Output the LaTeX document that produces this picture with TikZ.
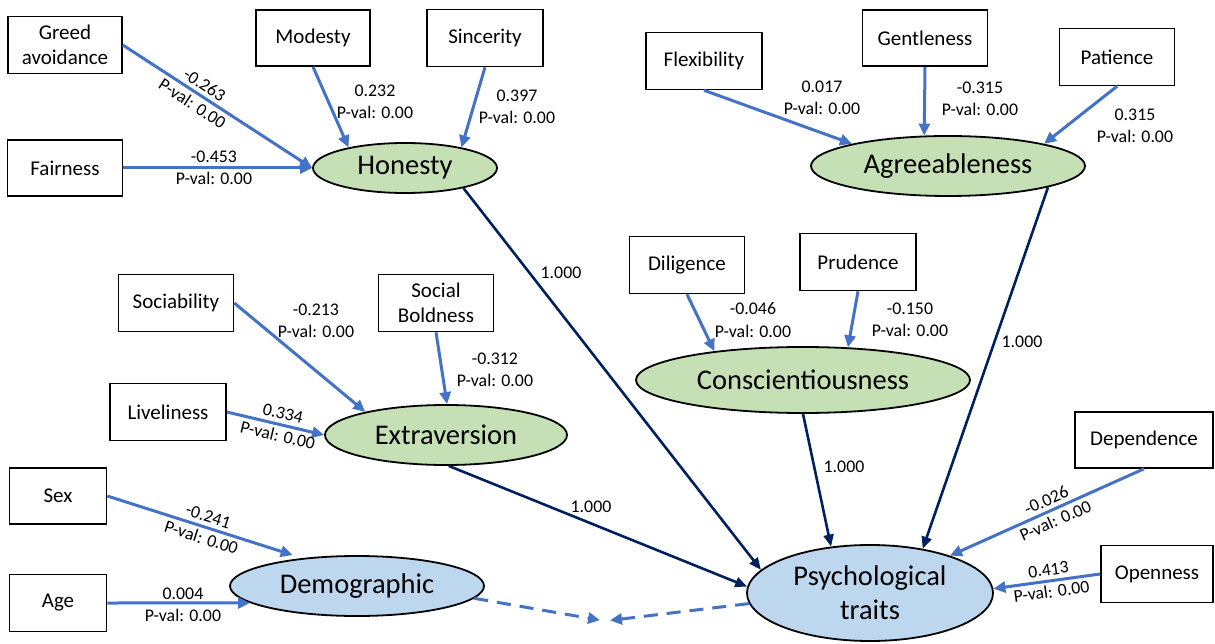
\documentclass[tikz,border=0pt]{standalone}
\usepackage{fontspec}
\setmainfont{Carlito}
\usetikzlibrary{arrows.meta,shapes.geometric}
\definecolor{lblue}{HTML}{4472C4}
\definecolor{navy}{HTML}{002060}
\definecolor{lgreen}{HTML}{C5E0B4}
\definecolor{lsky}{HTML}{BDD7EE}
\begin{document}
\begin{tikzpicture}[x=1pt,y=-1pt,
  box/.style={draw=black, line width=1.6pt, fill=white, inner sep=2pt, align=center,
    minimum height=57pt, font=\fontsize{21}{25}\selectfont},
  lat/.style={ellipse, draw=black, line width=1.8pt, inner sep=0pt, align=center,
    font=\fontsize{28.5}{34}\selectfont},
  green/.style={lat, fill=lgreen},
  sky/.style={lat, fill=lsky},
  lbl/.style={align=center, inner sep=1pt, font=\fontsize{17.8}{22.5}\selectfont},
  barrow/.style={draw=lblue, line width=3pt, -{Triangle[length=12pt,width=11pt]}},
  narrow/.style={draw=navy, line width=2.6pt, -{Triangle[length=12pt,width=10pt]}},
  darrow/.style={draw=lblue, line width=3pt, dash pattern=on 14pt off 9pt, -{Triangle[length=12pt,width=11pt]}}
]
\useasboundingbox[fill=white] (0,0) rectangle (1215,644);

% Boxes
\node[box, minimum width=114pt] (greed) at (65,45) {Greed\\avoidance};
\node[box, minimum width=114pt, minimum height=56pt] (mod) at (313,38) {Modesty};
\node[box, minimum width=116pt] (sin) at (485,38) {Sincerity};
\node[box, minimum width=115pt, minimum height=56pt] (fair) at (65,168) {Fairness};
\node[box, minimum width=116pt] (flex) at (704,61) {Flexibility};
\node[box, minimum width=125pt, minimum height=56pt] (gent) at (925,38) {Gentleness};
\node[box, minimum width=115pt] (pat) at (1117,57) {Patience};
\node[box, minimum width=115pt] (soc) at (176,303) {Sociability};
\node[box, minimum width=115pt] (bold) at (436,303) {Social\\Boldness};
\node[box, minimum width=116pt] (live) at (168,412) {Liveliness};
\node[box, minimum width=115pt] (dil) at (687,265) {Diligence};
\node[box, minimum width=116pt] (pru) at (858,262) {Prudence};
\node[box, minimum width=97pt, minimum height=56pt] (sex) at (58,496) {Sex};
\node[box, minimum width=97pt] (age) at (58,603) {Age};
\node[box, minimum width=138pt, minimum height=56pt] (dep) at (1144,440) {Dependence};
\node[box, minimum width=112pt] (open) at (1157,574) {Openness};

% Latent ellipses
\node[green, minimum width=184pt, minimum height=50pt] (hon) at (405,168) {Honesty};
\node[green, minimum width=274pt, minimum height=60pt] (agr) at (948,166) {Agreeableness};
\node[green, minimum width=242pt, minimum height=60pt] (ext) at (446,435) {Extraversion};
\node[green, minimum width=334pt, minimum height=66pt] (con) at (803,380) {Conscientiousness};
\node[sky, minimum width=254pt, minimum height=60pt] (dem) at (357,586) {Demographic};
\node[sky, minimum width=246pt, minimum height=96pt] (psy) at (870,593) {Psychological\\traits};
\coordinate (meet) at (605,621);

% Honesty indicators
\draw[barrow] (greed.east) -- node[lbl, sloped, pos=0.4] (lgreed) {-0.263\\P-val: 0.00} (hon.west);
\draw[barrow] (fair.east) -- (hon.west);
\draw[barrow] (mod.south) -- (hon.160);
\draw[barrow] (sin.south) -- (hon.20);
\node[lbl] (lfair) at (214,168) {-0.453\\P-val: 0.00};
\node[lbl] (lmod) at (375,102) {0.232\\P-val: 0.00};
\node[lbl] (lsin) at (517,107) {0.397\\P-val: 0.00};

% Agreeableness indicators
\draw[barrow] (flex.south) -- (agr.167);
\draw[barrow] (gent.south) -- (agr.128);
\draw[barrow] (pat.south) -- (agr.13);
\node[lbl] (lflex) at (822,98) {0.017\\P-val: 0.00};
\node[lbl] (lgent) at (980,99) {-0.315\\P-val: 0.00};
\node[lbl] (lpat) at (1135,126) {0.315\\P-val: 0.00};

% Extraversion indicators
\draw[barrow] (soc.east) -- (ext.164);
\draw[barrow] (bold.south) -- (ext.88);
\draw[barrow] (live.east) -- node[lbl, sloped, pos=0.55] (llive) {0.334\\P-val: 0.00} (ext.west);
\node[lbl] (lsoc) at (316,321) {-0.213\\P-val: 0.00};
\node[lbl] (lbold) at (495,370) {-0.312\\P-val: 0.00};

% Conscientiousness indicators
\draw[barrow] (dil.south) -- (con.162);
\draw[barrow] (pru.south) -- (con.36);
\node[lbl] (ldil) at (753,320) {-0.046\\P-val: 0.00};
\node[lbl] (lpru) at (910,320) {-0.150\\P-val: 0.00};

% Demographic indicators
\draw[barrow, shorten >=10pt] (sex.east) -- node[lbl, sloped, pos=0.5] (lsex) {-0.241\\P-val: 0.00} (dem.153);
\draw[barrow] (age.east) -- (dem.189);
\node[lbl] (lage) at (183,605) {0.004\\P-val: 0.00};

% Psychological traits
\draw[narrow] (hon.-19) -- (psy.168);
\draw[narrow] (ext.-85) -- (psy.177);
\draw[narrow] (con.south) -- (psy.130);
\draw[narrow] (agr.-12) -- (psy.40);
\node[lbl] (l1) at (561,273) {1.000};
\node[lbl] (l2) at (591,507) {1.000};
\node[lbl] (l3) at (844,467) {1.000};
\node[lbl] (l4) at (1022,342) {1.000};
\draw[barrow] (dep.south) -- node[lbl, sloped, pos=0.48] (ldep) {-0.026\\P-val: 0.00} (psy.25);
\draw[barrow] (open.west) -- node[lbl, sloped, pos=0.47] (lopen) {0.413\\P-val: 0.00} (psy.2);

% Dashed connectors
\draw[darrow, shorten >=5pt] (dem.-6) -- (meet);
\draw[darrow, shorten >=5pt] (psy.185) -- (meet);
\end{tikzpicture}
\end{document}
